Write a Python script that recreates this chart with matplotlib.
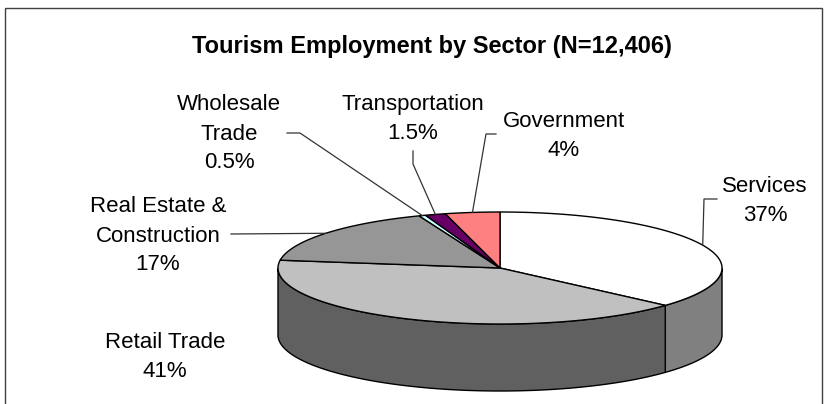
import numpy as np
import matplotlib
matplotlib.use("Agg")
import matplotlib.pyplot as plt
from matplotlib.patches import Polygon, Rectangle

plt.rcParams['font.family'] = ['Liberation Sans', 'DejaVu Sans']

# data
sectors = ["Services", "Retail Trade", "Real Estate &\nConstruction",
           "Wholesale\nTrade", "Transportation", "Government"]
shares = [37, 41, 17, 0.5, 1.5, 4]
pct_labels = ["37%", "41%", "17%", "0.5%", "1.5%", "4%"]

# style
top_colors = ["#FFFFFF", "#C0C0C0", "#969696", "#CCFFFF", "#660066", "#FF8080"]
side_colors = ["#808080", "#606060", "#4B4B4B", "#669999", "#330033", "#804040"]

# pie geometry (pixel space, y down)
cx, cy, a, b, depth = 500, 268, 222, 56, 67

# label layout: text centre and leader elbows (text side first)
label_xy = [(765, 201), (165, 357), (158, 236), (229, 134), (413, 119), (564, 136)]
elbows = [[(717, 199), (704, 199)], None, [(231, 234)],
          [(287, 133), (300, 133)], [(413, 151), (413, 164)],
          [(496, 134), (486, 134)]]


def ell(t):
    r = np.radians(t)
    return np.column_stack([cx + a * np.cos(r), cy - b * np.sin(r)])


fig = plt.figure(figsize=(8.31, 4.04), dpi=100)
ax = fig.add_axes([0, 0, 1, 1])
ax.set_xlim(0, 831)
ax.set_ylim(404, 0)
ax.axis('off')

vals = np.array(shares, dtype=float)
bounds = 90 - 360 * np.concatenate([[0], np.cumsum(vals)]) / vals.sum()

# side walls (front half only)
for i in range(len(vals)):
    hi, lo = bounds[i], bounds[i + 1]
    s_hi, s_lo = min(hi, 0), max(lo, -180)
    if s_hi <= s_lo:
        continue
    t = np.linspace(s_hi, s_lo, 120)
    top = ell(t)
    bot = top + [0, depth]
    ax.add_patch(Polygon(np.vstack([top, bot[::-1]]), closed=True,
                         facecolor=side_colors[i], edgecolor='black', lw=1.0, zorder=1))

# top faces
for i in range(len(vals)):
    hi, lo = bounds[i], bounds[i + 1]
    n = max(int(abs(hi - lo)) * 2, 4)
    pts = np.vstack([[cx, cy], ell(np.linspace(hi, lo, n))])
    ax.add_patch(Polygon(pts, closed=True, facecolor=top_colors[i],
                         edgecolor='black', lw=1.0, zorder=2))

# labels and leaders
for i in range(len(vals)):
    x, y = label_xy[i]
    ax.text(x, y, sectors[i] + "\n" + pct_labels[i], ha='center', va='center',
            fontsize=16, linespacing=1.5, zorder=4)
    if elbows[i] is not None:
        mid = (bounds[i] + bounds[i + 1]) / 2
        end = ell(np.array([mid]))[0]
        pts = np.array(elbows[i] + [tuple(end)])
        ax.plot(pts[:, 0], pts[:, 1], color='#333333', lw=0.9, zorder=3)

ax.text(432, 46, "Tourism Employment by Sector (N=12,406)", ha='center', va='center',
        fontsize=17, fontweight='bold')

# chart frame
ax.add_patch(Rectangle((5, 8), 817, 420, fill=False, edgecolor='#404040', lw=1.0,
                       clip_on=False, zorder=5))

fig.savefig("out.png", dpi=100)
